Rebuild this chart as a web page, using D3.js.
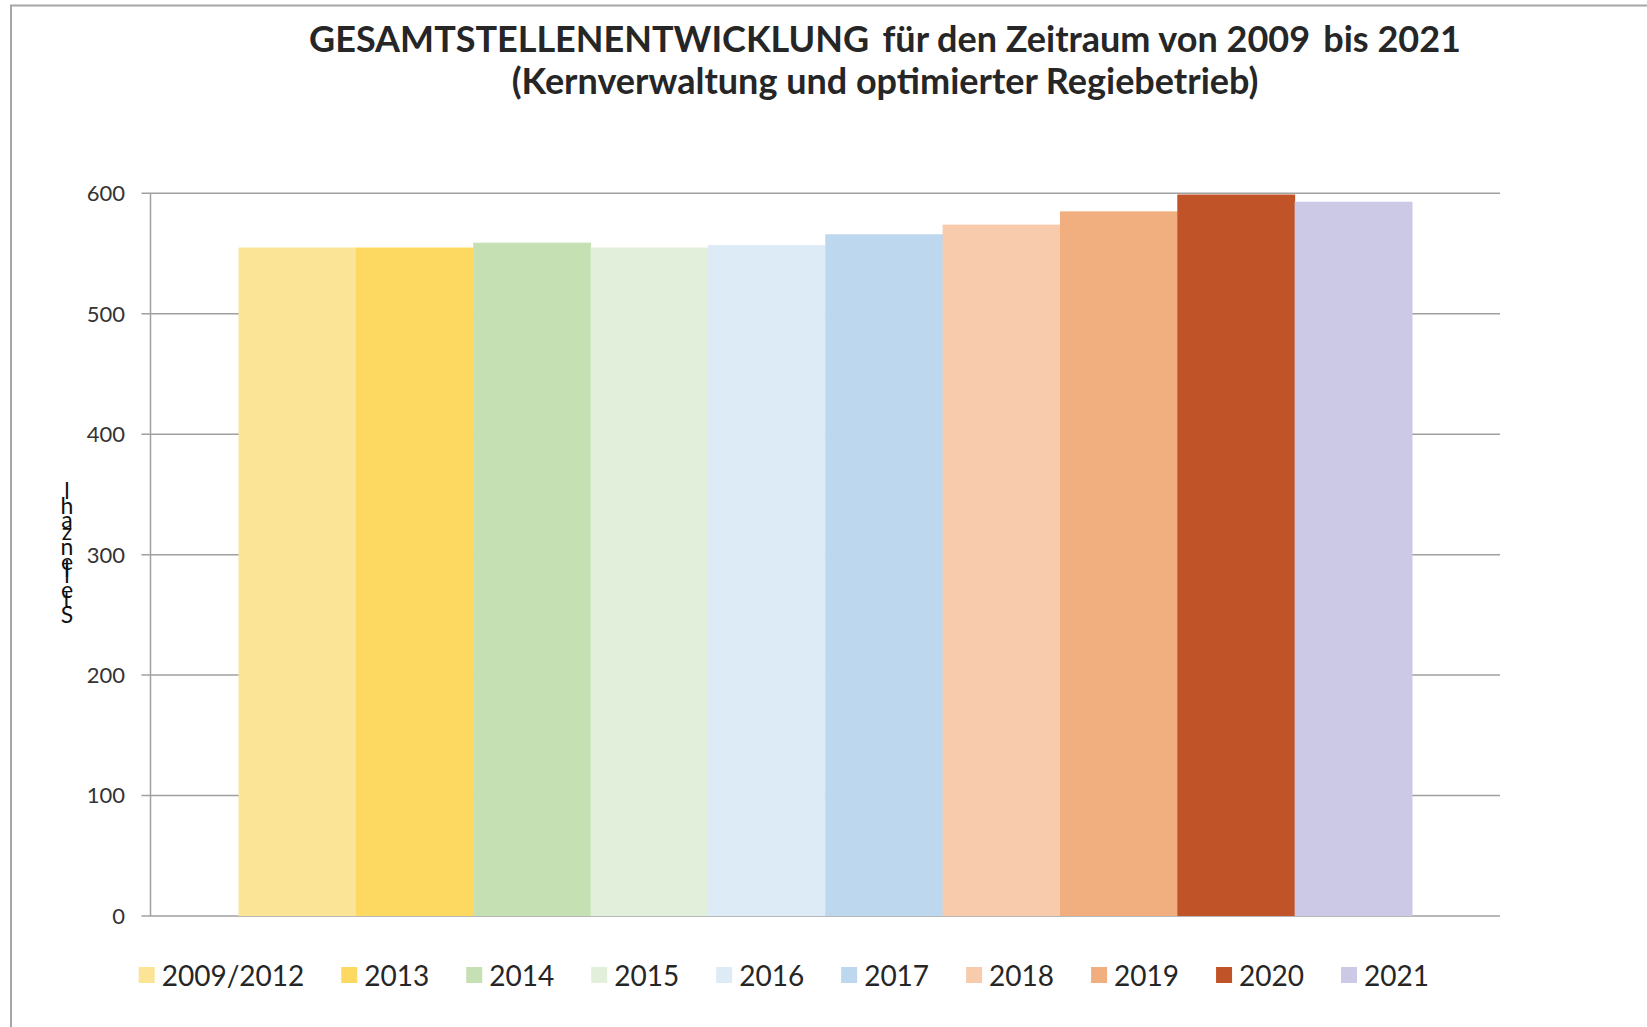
<!DOCTYPE html>
<html>
<head>
<meta charset="utf-8">
<script src="https://cdn.jsdelivr.net/npm/d3@7/dist/d3.min.js"></script>
<style>
  html, body { margin: 0; padding: 0; background: #fff; }
  svg { display: block; font-family: Lato, "Open Sans", sans-serif; }
</style>
</head>
<body>
<svg id="chart" width="1647" height="1027"></svg>
<script>
// ! DATA
const years = ["2009/2012", "2013", "2014", "2015", "2016", "2017", "2018", "2019", "2020", "2021"];
const stellen = [555, 555, 559, 555, 557, 566, 574, 585, 599, 593];
const barColors = ["#FCE497", "#FDD962", "#C5E0B3", "#E2EFDA", "#DDEBF7", "#BDD7EE", "#F8CBAD", "#F1AF7F", "#C05327", "#CCC9E6"];
const yTicks = [0, 100, 200, 300, 400, 500, 600];
const titleLines = ["GESAMTSTELLENENTWICKLUNG\u2009 für den Zeitraum von 2009\u2009 bis 2021", "(Kernverwaltung und optimierter Regiebetrieb)"];
const yLabel = "Stellenzahl";

const svg = d3.select("#chart");
const plot = {left: 150.5, right: 1500, top: 193.3, bottom: 916};

// ! FRAME (top + left border only)
svg.append("path")
  .attr("d", `M11,1027 V5.5 H1647`)
  .attr("fill", "none").attr("stroke", "#a6a6a6").attr("stroke-width", 2);

// ! SCALES
const x = d3.scaleBand().domain(years).range([plot.left, plot.right]).paddingInner(0).paddingOuter(0.75);
const y = d3.scaleLinear().domain([0, 600]).range([plot.bottom, plot.top]);

// ! GRIDLINES + AXIS
svg.append("g")
  .selectAll("line.grid")
  .data(yTicks)
  .join("line")
  .attr("class", "grid")
  .attr("x1", plot.left - 9).attr("x2", plot.right)
  .attr("y1", d => y(d)).attr("y2", d => y(d))
  .attr("stroke", "#a0a0a0").attr("stroke-width", 1.5);

svg.append("line")
  .attr("x1", plot.left).attr("x2", plot.left)
  .attr("y1", plot.top).attr("y2", plot.bottom)
  .attr("stroke", "#a0a0a0").attr("stroke-width", 1.5);

svg.append("g")
  .selectAll("text")
  .data(yTicks)
  .join("text")
  .attr("x", 125).attr("y", d => y(d))
  .attr("dy", "0.36em")
  .attr("text-anchor", "end")
  .attr("font-size", 22)
  .attr("fill", "#333")
  .text(d => d);

// ! BARS
svg.append("g")
  .selectAll("rect")
  .data(years)
  .join("rect")
  .attr("x", d => x(d))
  .attr("width", x.bandwidth() + 0.5)
  .attr("y", (d, i) => y(stellen[i]))
  .attr("height", (d, i) => y(0) - y(stellen[i]))
  .attr("fill", (d, i) => barColors[i]);

// ! Y LABEL (upright letters stacked bottom to top, each advanced by its glyph width)
const labelG = svg.append("g");
const letters = labelG.selectAll("text")
  .data(yLabel.split(""))
  .join("text")
  .attr("x", 67)
  .attr("text-anchor", "middle")
  .attr("font-size", 23)
  .attr("fill", "#111")
  .text(d => d);
const widths = letters.nodes().map(n => n.getComputedTextLength());
const span = 124;
const k = span / d3.sum(widths.slice(0, -1));
let acc = 0;
letters.each(function(d, i) {
  d3.select(this).attr("y", 622.5 - acc * k);
  acc += widths[i];
});

// ! TITLE
svg.append("g")
  .selectAll("text")
  .data(titleLines)
  .join("text")
  .attr("x", 885)
  .attr("y", (d, i) => 52 + i * 42)
  .attr("text-anchor", "middle")
  .attr("font-size", 36)
  .attr("font-weight", "bold")
  .attr("fill", "#262626")
  .text(d => d);

// ! LEGEND
const legend = svg.append("g");
let lx = 138.7;
years.forEach((yr, i) => {
  legend.append("rect")
    .attr("x", lx).attr("y", 967)
    .attr("width", 16).attr("height", 16)
    .attr("fill", barColors[i]);
  const t = legend.append("text")
    .attr("x", lx + 23).attr("y", 986)
    .attr("font-size", 28)
    .attr("fill", "#262626")
    .text(yr);
  lx += 23 + t.node().getComputedTextLength() + 37;
});
</script>
</body>
</html>
